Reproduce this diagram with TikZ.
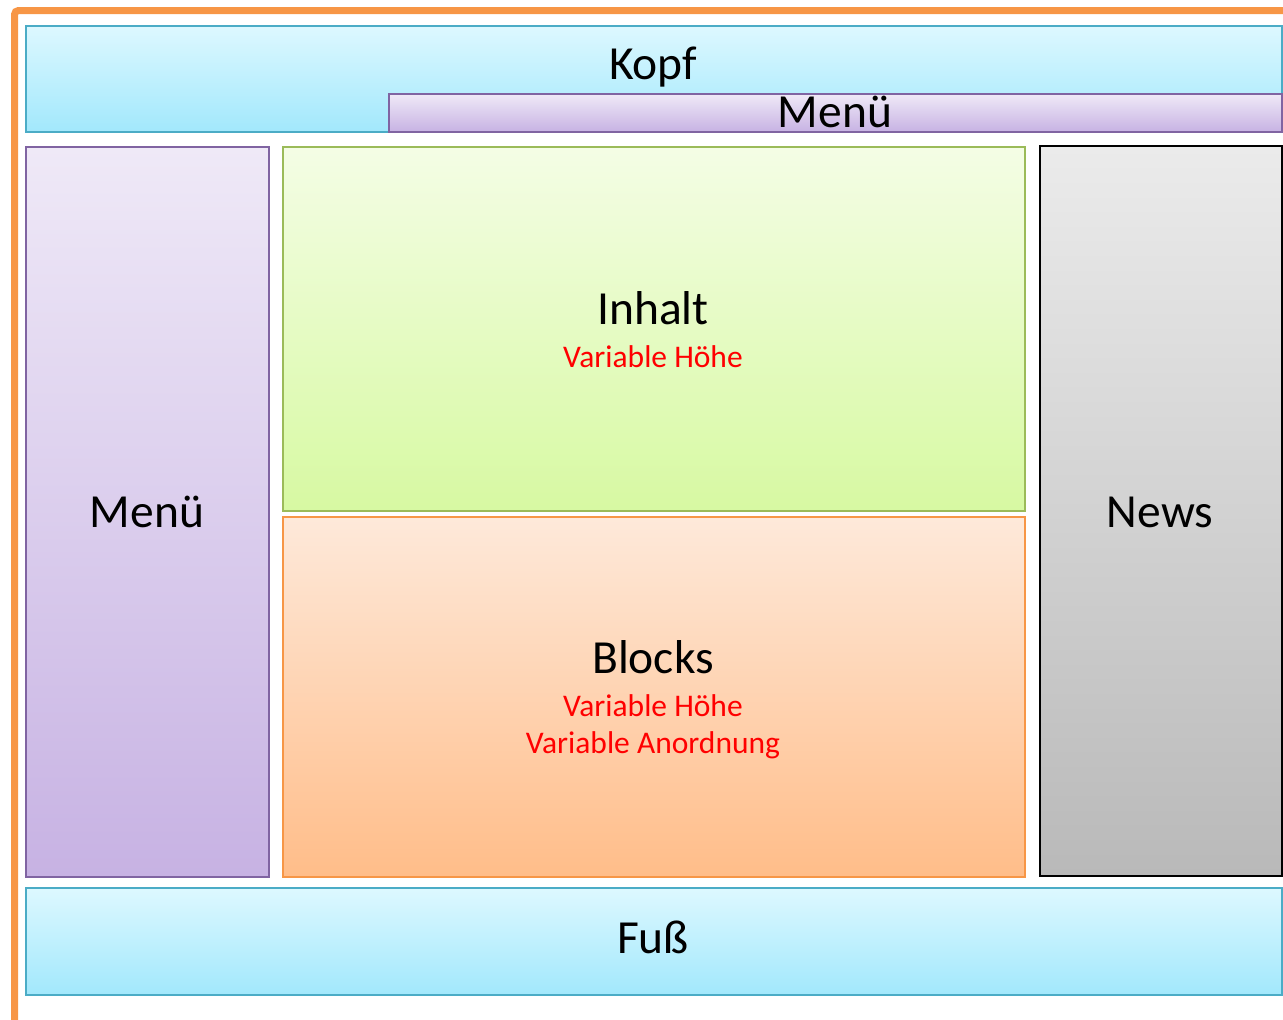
\documentclass[tikz,border=0pt]{standalone}
\usepackage{fontspec}
\setmainfont{Carlito}
\begin{document}
\begin{tikzpicture}[x=1pt,y=-1pt,
  box/.style={draw, line width=2pt, inner sep=0pt, anchor=north west},
  aqua/.style={box, draw=aquaB, top color=aquaT, bottom color=aquaU},
  lila/.style={box, draw=lilaB, top color=lilaT, bottom color=lilaU},
  gruen/.style={box, draw=gruenB, top color=gruenT, bottom color=gruenU},
  orng/.style={box, draw=orngB, top color=orngT, bottom color=orngU},
  grau/.style={box, draw=black, top color=grauT, bottom color=grauU},
  big/.style={font=\fontsize{47.5}{54}\selectfont, anchor=base, inner sep=0pt},
  small/.style={font=\fontsize{31.5}{36}\selectfont, anchor=base, inner sep=0pt, text=red}]
\definecolor{aquaB}{HTML}{4BACC6}\definecolor{aquaT}{HTML}{DDF8FF}\definecolor{aquaU}{HTML}{A2E8FC}
\definecolor{lilaB}{HTML}{8064A2}\definecolor{lilaT}{HTML}{EFE9F7}\definecolor{lilaU}{HTML}{C7B2E3}
\definecolor{gruenB}{HTML}{9BBB59}\definecolor{gruenT}{HTML}{F4FDE5}\definecolor{gruenU}{HTML}{D7F9A2}
\definecolor{orngB}{HTML}{F79646}\definecolor{orngT}{HTML}{FEE9DA}\definecolor{orngU}{HTML}{FFBD89}
\definecolor{grauT}{HTML}{EBEBEB}\definecolor{grauU}{HTML}{B9B9B9}
\useasboundingbox (0,0) rectangle (1283,1020);
\draw[orngB, line width=7pt, rounded corners=4pt] (14.5,1021) -- (14.5,10.5) -- (1284,10.5);
\node[aqua, minimum width=1256pt, minimum height=106pt] (kopf) at (25,25) {};
\node[lila, minimum width=893pt, minimum height=38pt] (menutop) at (388,93) {};
\node[lila, minimum width=243pt, minimum height=730pt] (menu) at (25,146) {};
\node[gruen, minimum width=742pt, minimum height=364pt] (inhalt) at (282,146) {};
\node[orng, minimum width=742pt, minimum height=360pt] (blocks) at (282,516) {};
\node[grau, minimum width=242pt, minimum height=730pt] (news) at (1039,145) {};
\node[aqua, minimum width=1256pt, minimum height=107pt] (fuss) at (25,887) {};
\node[big] (tkopf) at (653,79) {Kopf};
\node[big] (tmenutop) at (835,127) {Menü};
\node[big] (tmenu) at (147,527) {Menü};
\node[big] (tinhalt) at (653,324) {Inhalt};
\node[small] (tinhalt2) at (653,367) {Variable Höhe};
\node[big] (tnews) at (1160,527) {News};
\node[big] (tblocks) at (653,673) {Blocks};
\node[small] (tblocks2) at (653,716) {Variable Höhe};
\node[small] (tblocks3) at (653,753) {Variable Anordnung};
\node[big] (tfuss) at (653,953) {Fuß};
\end{tikzpicture}
\end{document}
